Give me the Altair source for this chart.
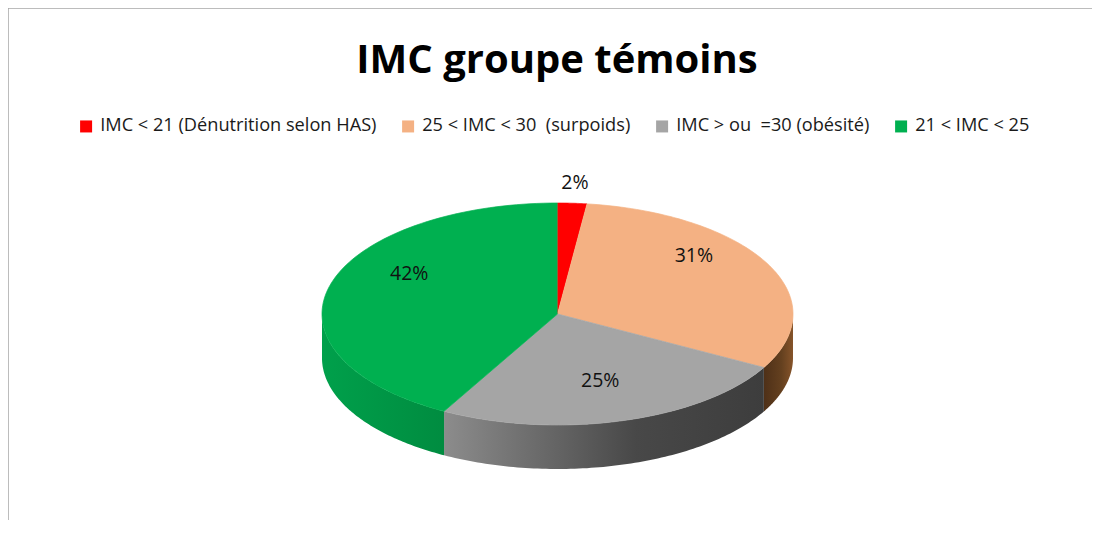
import altair as alt
import pandas as pd

TITLE = "IMC groupe témoins"
categories = [
    "IMC < 21 (Dénutrition selon HAS)",
    "25 < IMC < 30 \u00a0(surpoids)",
    "IMC > ou \u00a0=30 (obésité)",
    "21 < IMC < 25",
]
values = [2, 31, 25, 42]
colors = ["#ff0000", "#f4b183", "#a5a5a5", "#00b050"]

# layout (pixel geometry of the 3D ellipse)
W, H = 1084, 512
CX, CY = 549.5, 306.0
RX, RY = 235.5, 111.0
DEPTH = 44
N = 90
KX, KY, K_OUT, LIFT = 0.65, 0.8, 1.18, 18
FONT = "Open Sans"

df = pd.DataFrame({"cat": categories, "value": values, "k": list(range(len(values)))})
title_df = pd.DataFrame({"t": [TITLE]})
one = pd.DataFrame({"d": [0]})

xs = alt.Scale(domain=[0, W], range=[0, W], nice=False, zero=False)
ys = alt.Scale(domain=[0, H], range=[0, H], nice=False, zero=False)
cscale = alt.Scale(domain=categories, range=colors)


def base():
    return (
        alt.Chart(df)
        .transform_joinaggregate(total="sum(value)")
        .transform_window(cum="sum(value)", sort=[alt.SortField("k")])
        .transform_calculate(
            a0="2*PI*(datum.cum - datum.value)/datum.total",
            a1="2*PI*datum.cum/datum.total",
        )
    )


def side(cat, stops):
    grad = alt.LinearGradient(
        gradient="linear",
        stops=[alt.GradientStop(color=c, offset=o) for o, c in stops],
        x1=0, x2=1, y1=0, y2=0,
    )
    return (
        base()
        .transform_filter(alt.datum.cat == cat)
        .transform_calculate(b0="max(datum.a0, PI/2)", b1="min(datum.a1, 3*PI/2)")
        .transform_filter("datum.b1 > datum.b0")
        .transform_calculate(seq=f"sequence(0, {2 * N + 2})")
        .transform_flatten(["seq"], as_=["idx"])
        .transform_calculate(t=f"datum.idx <= {N} ? datum.idx / {N} : ({2 * N + 1} - datum.idx) / {N}")
        .transform_calculate(th="datum.b0 + (datum.b1 - datum.b0) * datum.t")
        .transform_calculate(
            px=f"{CX} + {RX} * sin(datum.th)",
            py=f"{CY} - {RY} * cos(datum.th) + (datum.idx > {N} ? {DEPTH} : 0)",
        )
        .mark_line(filled=True, color=grad, strokeWidth=0)
        .encode(
            x=alt.X("px:Q", scale=xs, axis=None),
            y=alt.Y("py:Q", scale=ys, axis=None),
            order=alt.Order("idx:Q"),
        )
    )


sides = [
    side(categories[1], [(0, "#4e3018"), (0.6, "#64401f"), (1, "#86542a")]),
    side(categories[2], [(0, "#8c8c8c"), (0.6, "#484848"), (1, "#3d3d3d")]),
    side(categories[3], [(0, "#00a04b"), (1, "#008c40")]),
]

top = (
    base()
    .transform_calculate(seq=f"sequence(-1, {N + 1})")
    .transform_flatten(["seq"], as_=["idx"])
    .transform_calculate(th=f"datum.a0 + (datum.a1 - datum.a0) * max(datum.idx, 0) / {N}")
    .transform_calculate(
        px=f"datum.idx < 0 ? {CX} : {CX} + {RX} * sin(datum.th)",
        py=f"datum.idx < 0 ? {CY} : {CY} - {RY} * cos(datum.th)",
    )
    .mark_line(filled=True, strokeWidth=0.7, strokeJoin="round")
    .encode(
        x=alt.X("px:Q", scale=xs, axis=None),
        y=alt.Y("py:Q", scale=ys, axis=None),
        order=alt.Order("idx:Q"),
        color=alt.Color(
            "cat:N",
            scale=cscale,
            sort=categories,
            legend=alt.Legend(
                orient="none",
                legendX=69,
                legendY=109,
                direction="horizontal",
                title=None,
                symbolType="square",
                symbolSize=144,
                symbolStrokeWidth=0,
                labelFont=FONT,
                labelFontSize=18.2,
                labelColor="#1a1a1a",
                labelOffset=5,
                columnPadding=22,
                labelLimit=0,
                padding=0,
            ),
        ),
        stroke=alt.Stroke("cat:N", scale=cscale, legend=None),
    )
)

labels = (
    base()
    .transform_calculate(mid="(datum.a0 + datum.a1)/2", frac="datum.value / datum.total")
    .transform_calculate(
        kx=f"datum.frac < 0.05 ? {K_OUT} : {KX}",
        ky=f"datum.frac < 0.05 ? {K_OUT} : {KY}",
        lift=f"datum.frac < 0.05 ? 0 : {LIFT}",
        txt="format(datum.frac, '.0%')",
    )
    .transform_calculate(
        lx=f"{CX} + {RX} * datum.kx * sin(datum.mid)",
        ly=f"{CY} - {RY} * datum.ky * cos(datum.mid) - datum.lift",
    )
    .mark_text(font=FONT, fontSize=19.5, color="#111111")
    .encode(
        x=alt.X("lx:Q", scale=xs, axis=None),
        y=alt.Y("ly:Q", scale=ys, axis=None),
        text="txt:N",
    )
)

title = alt.Chart(title_df).mark_text(
    font=FONT, fontSize=40, fontWeight="bold", color="#000000", baseline="middle"
).encode(x=alt.value(549), y=alt.value(53), text="t:N")

border_top = alt.Chart(one).mark_rule(color="#a6a6a6", strokeWidth=1.5).encode(
    x=alt.value(0), x2=alt.value(W), y=alt.value(0)
)
border_left = alt.Chart(one).mark_rule(color="#a6a6a6", strokeWidth=1.5).encode(
    x=alt.value(0), y=alt.value(0), y2=alt.value(H)
)

chart = (
    alt.layer(border_top, border_left, *sides, top, labels, title)
    .properties(width=W, height=H, autosize="none", padding=0)
    .configure_view(stroke="transparent")
)

chart.save("out.html", embed_options={"renderer": "svg", "actions": False})
